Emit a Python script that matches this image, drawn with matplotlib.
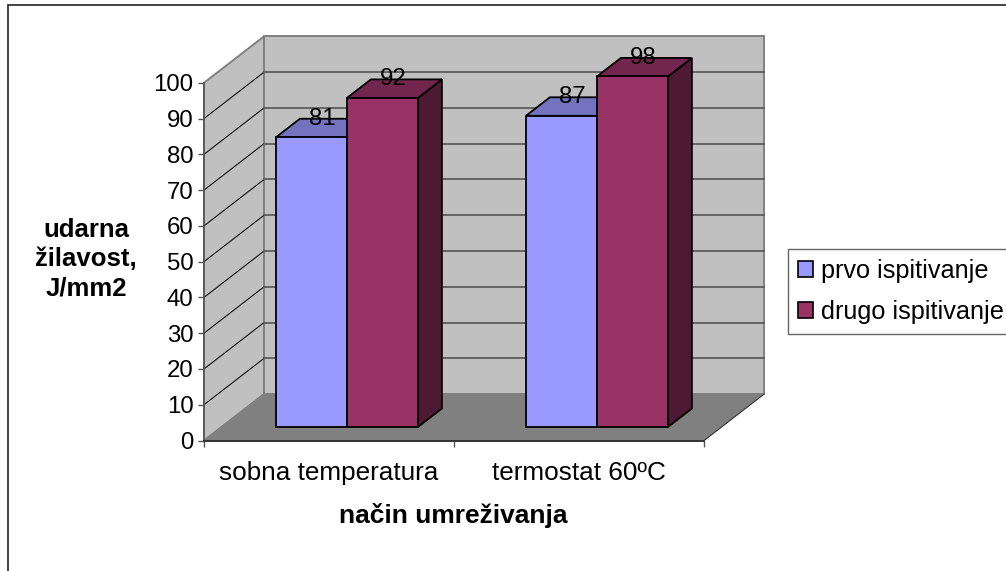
import matplotlib
matplotlib.use('Agg')
import matplotlib.pyplot as plt
from matplotlib.patches import Polygon, Patch, Rectangle

# data
categories = ['sobna temperatura', 'termostat 60ºC']
series_names = ['prvo ispitivanje', 'drugo ispitivanje']
prvo = [81, 87]
drugo = [92, 98]
y_ticks = list(range(0, 101, 10))

# colours: front, top, side
face_colors = [('#9999FF', '#7373BF', '#4D4D80'), ('#993366', '#73264D', '#4D1933')]

# fake 3d offset of the back wall, in data units
DX = 60 / 250
DY = 46.4 / 3.577
BAR_W = 0.284
D0, D1 = 0.29, 0.69


def proj(x, y, d):
    return (x + d * DX, y + d * DY)


plt.rcParams['font.family'] = ['Liberation Sans', 'DejaVu Sans']

W, H = 1006, 571
fig = plt.figure(figsize=(W / 100, H / 100), dpi=100)
ax = fig.add_axes([204 / W, (H - 440.5) / H, 500 / W, 357.7 / H])
ax.set_xlim(0, 2)
ax.set_ylim(0, 100)
ax.patch.set_visible(False)

# outer chart border, runs off the right and bottom of the image
fig.add_artist(Rectangle((7.5 / W, -0.1), 1.2, (H - 5) / H + 0.1, transform=fig.transFigure,
                         fill=False, edgecolor='#222222', linewidth=1.2))


def add_poly(pts, fc, ec, lw, z):
    ax.add_patch(Polygon(pts, closed=True, facecolor=fc, edgecolor=ec, linewidth=lw,
                         clip_on=False, zorder=z, joinstyle='miter'))


# walls and floor
add_poly([proj(0, 0, 0), proj(0, 100, 0), proj(0, 100, 1), proj(0, 0, 1)], '#C0C0C0', '#808080', 1.4, 1)
add_poly([proj(0, 0, 1), proj(0, 100, 1), proj(2, 100, 1), proj(2, 0, 1)], '#C0C0C0', '#808080', 1.4, 1)
add_poly([proj(0, 0, 0), proj(2, 0, 0), proj(2, 0, 1), proj(0, 0, 1)], '#808080', '#808080', 0.8, 1.5)
ax.plot(*zip(proj(2, 0, 0), proj(2, 0, 1)), color='#333333', lw=0.7, clip_on=False, zorder=1.6)

# gridlines on both walls
for v in y_ticks[1:-1]:
    ax.plot(*zip(proj(0, v, 0), proj(0, v, 1)), color='#111111', lw=0.8, clip_on=False, zorder=2)
    ax.plot(*zip(proj(0, v, 1), proj(2, v, 1)), color='#555555', lw=1.2, clip_on=False, zorder=2)

# bars
z = 3
for i in range(len(categories)):
    center = i + 0.5
    for j, vals in enumerate([prvo, drugo]):
        x0 = center - BAR_W + j * BAR_W + 0.002
        x1 = x0 + BAR_W
        v = vals[i]
        front_c, top_c, side_c = face_colors[j]
        add_poly([proj(x1, 0, D0), proj(x1, 0, D1), proj(x1, v, D1), proj(x1, v, D0)], side_c, 'black', 1.3, z)
        add_poly([proj(x0, v, D0), proj(x1, v, D0), proj(x1, v, D1), proj(x0, v, D1)], top_c, 'black', 1.3, z)
        add_poly([proj(x0, 0, D0), proj(x1, 0, D0), proj(x1, v, D0), proj(x0, v, D0)], front_c, 'black', 1.3, z)
        z += 1
        # value label sits on the top face
        lx, ly = proj(x0 + BAR_W / 2 - 0.006, v, (D0 + D1) / 2)
        ax.text(lx, ly + 2.6, str(v), ha='center', va='center', fontsize=17.3, color='black',
                clip_on=False, zorder=20)

# axes
for s in ['top', 'right']:
    ax.spines[s].set_visible(False)
ax.spines['left'].set_color('#555555')
ax.spines['left'].set_linewidth(1.2)
ax.spines['bottom'].set_color('#333333')
ax.spines['bottom'].set_linewidth(1.4)
ax.spines['left'].set_zorder(10)
ax.spines['bottom'].set_zorder(10)

ax.set_yticks(y_ticks)
ax.tick_params(axis='y', length=4.5, width=1, color='#555555', pad=3, labelsize=17.3)
ax.set_xticks([0, 1, 2])
ax.set_xticklabels([])
ax.set_xticks([0.5, 1.5], labels=categories, minor=True)
ax.tick_params(axis='x', which='major', length=4.5, width=1, color='#555555')
ax.tick_params(axis='x', which='minor', length=0, pad=15, labelsize=18.8)

ax.set_xlabel('način umreživanja', fontsize=19, fontweight='bold', va='center')
ax.set_ylabel('udarna\nžilavost,\nJ/mm2', rotation=0, fontsize=18.5, fontweight='bold',
              ha='center', va='center', linespacing=1.27)
ax.yaxis.set_label_coords((86 - 204) / 500, (440.5 - 259) / 357.7)
ax.xaxis.set_label_coords((453 - 204) / 500, (440.5 - 516) / 357.7)

handles = [Patch(facecolor=face_colors[k][0], edgecolor='black', linewidth=1.2) for k in range(2)]
leg = fig.legend(handles, series_names, loc='upper left', bbox_to_anchor=(787.7 / W, (H - 249) / H),
                 borderaxespad=0, fancybox=False, framealpha=1, edgecolor='#666666', fontsize=18.2,
                 handlelength=0.6, handleheight=0.6, handletextpad=0.32, labelspacing=0.68,
                 borderpad=0.4)
leg.get_frame().set_linewidth(1)

fig.savefig('out.png', dpi=100)
